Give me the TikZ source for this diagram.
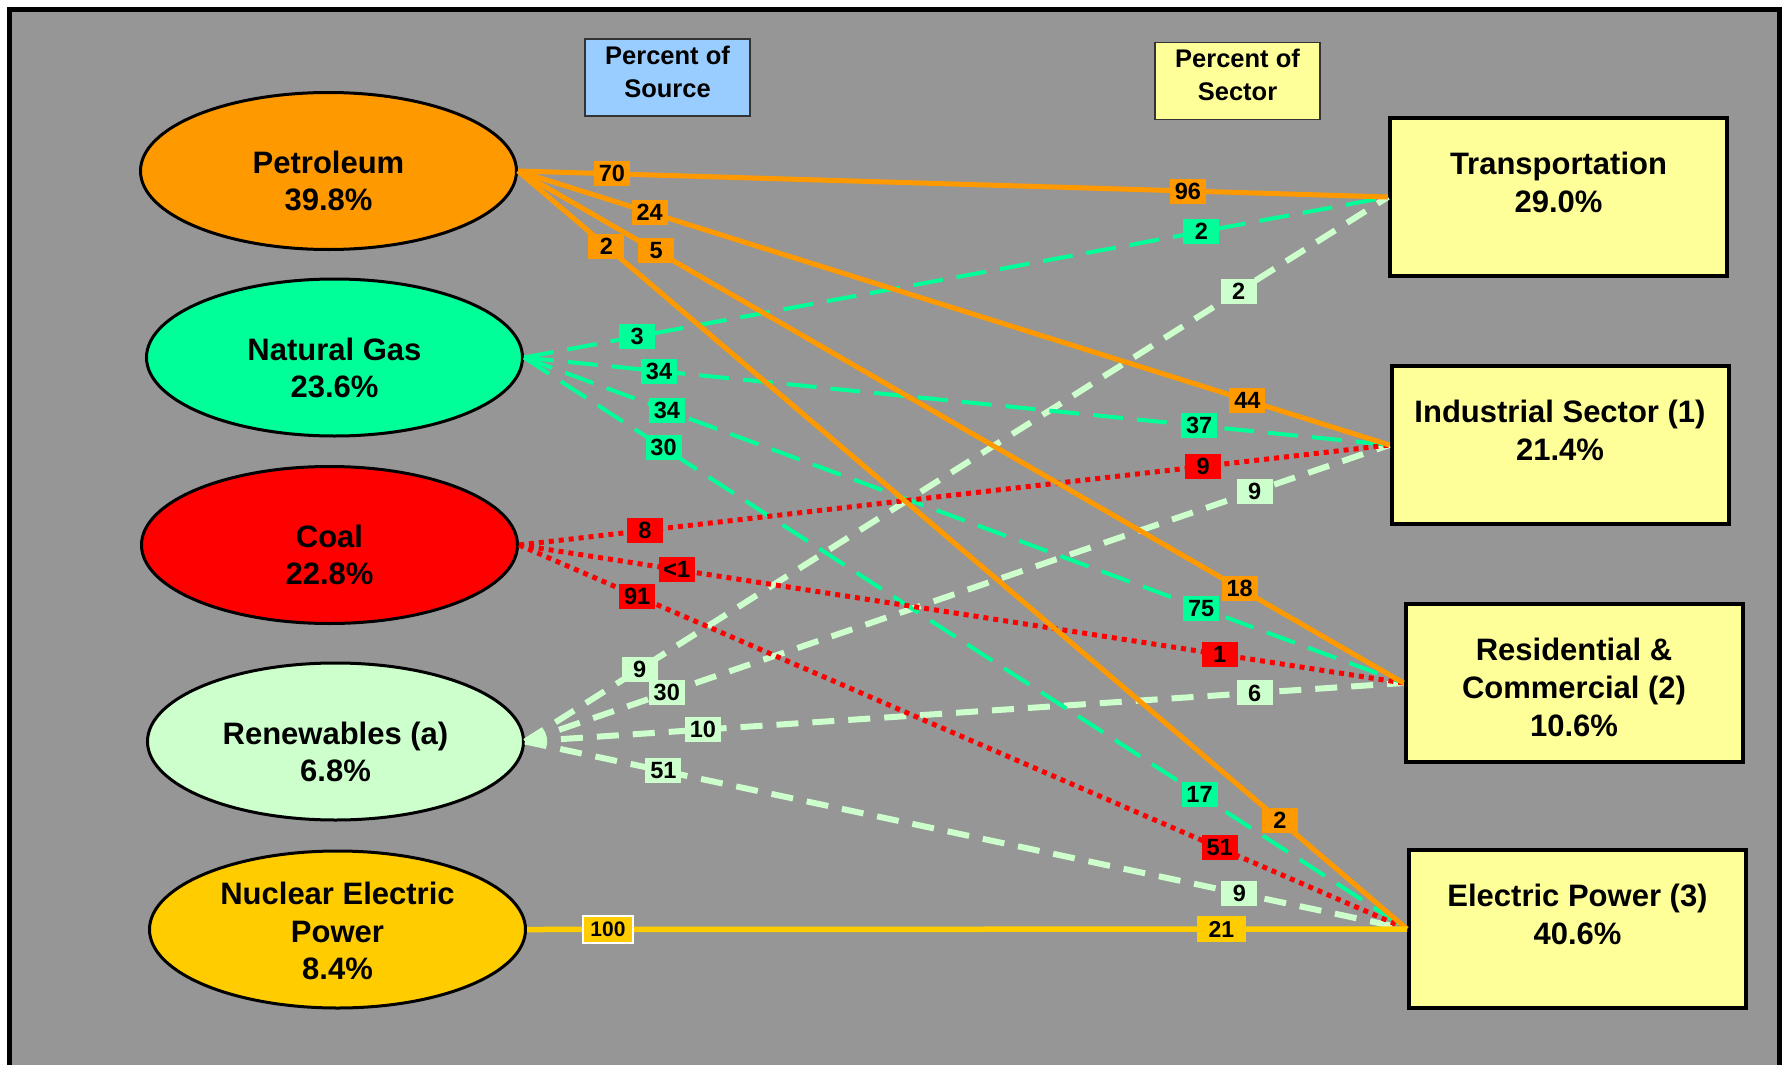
\documentclass[tikz,border=0pt]{standalone}
\usepackage{fontspec}
\setmainfont{Liberation Sans}
\usetikzlibrary{shapes.geometric}
\definecolor{bg}{RGB}{150,150,150}
\definecolor{petc}{HTML}{FF9900}
\definecolor{gasc}{HTML}{00FF99}
\definecolor{coalc}{HTML}{FF0000}
\definecolor{renc}{HTML}{CCFFCC}
\definecolor{nucc}{HTML}{FFCC00}
\definecolor{boxc}{HTML}{FFFF99}
\definecolor{srcc}{HTML}{99CCFF}
\tikzset{
 srcnode/.style={ellipse, draw=black, line width=3pt, minimum width=376pt, minimum height=157pt, inner sep=0pt},
 sectnode/.style={rectangle, draw=black, line width=4pt, fill=boxc, inner sep=0pt, minimum width=337pt, minimum height=158pt},
 bigtext/.style={font=\bfseries\fontsize{31}{37.5}\selectfont, align=center, inner sep=0pt},
 secttext/.style={font=\bfseries\fontsize{31}{38}\selectfont, align=center, inner sep=0pt},
 hdrbox/.style={rectangle, draw=black!80, line width=1.5pt, minimum width=165pt, minimum height=77pt, inner sep=0pt},
 hdrtext/.style={font=\bfseries\fontsize{25.5}{33}\selectfont, align=center, inner sep=0pt},
 petline/.style={draw=petc, line width=5pt},
 gasline/.style={draw=gasc, line width=4pt, dash pattern=on 30pt off 14pt},
 coalline/.style={draw=coalc, line width=5pt, dash pattern=on 5pt off 5pt},
 renline/.style={draw=renc, line width=6pt, dash pattern=on 22pt off 14pt},
 nucline/.style={draw=nucc, line width=5.5pt},
 lab/.style={font=\bfseries\fontsize{23.5}{23.5}\selectfont, minimum width=36pt, minimum height=25pt, inner sep=0pt},
 nuclab/.style={lab, fill=nucc, minimum width=49pt, minimum height=26pt},
}
\begin{document}
\begin{tikzpicture}[x=1pt,y=-1pt]
\useasboundingbox (0,0) rectangle (1786,1065);
\fill[white] (0,0) rectangle (1786,1065);
\draw[line width=5pt, fill=bg] (9.3,9.7) rectangle (1779,1100);

% header boxes
\node[hdrbox, fill=srcc] (hsrc) at (667.5,77.5) {};
\node[hdrtext] (hsrcT) at (667.5,72) {Percent of\\Source};
\node[hdrbox, fill=boxc] (hsec) at (1237.5,81) {};
\node[hdrtext] (hsecT) at (1237.5,75) {Percent of\\Sector};

% sources
\node[srcnode, fill=petc] (pet) at (328.5,171) {};
\node[srcnode, fill=gasc] (gas) at (334.5,357.5) {};
\node[srcnode, fill=coalc] (coal) at (329.5,545) {};
\node[srcnode, fill=renc] (ren) at (335.5,741.5) {};
\node[srcnode, fill=nucc] (nuc) at (337.5,929.5) {};

% sectors
\node[sectnode] (tr) at (1558.5,197) {};
\node[sectnode] (ind) at (1560,445) {};
\node[sectnode] (rc) at (1574,683) {};
\node[sectnode] (ep) at (1577.5,929) {};

% connectors
\draw[renline] (ren.east) -- (tr.west) coordinate[pos=0.133] (rtA) coordinate[pos=0.827] (rtB);
\draw[renline] (ren.east) -- (ind.west) coordinate[pos=0.164] (riA) coordinate[pos=0.844] (riB);
\draw[renline] (ren.east) -- (rc.west) coordinate[pos=0.2025] (rrA) coordinate[pos=0.8305] (rrB);
\draw[renline] (ren.east) -- (ep.west) coordinate[pos=0.157] (reA) coordinate[pos=0.81] (reB);

\draw[gasline] (gas.east) -- (tr.west) coordinate[pos=0.131] (gtA) coordinate[pos=0.784] (gtB);
\draw[gasline] (gas.east) -- (ind.west) coordinate[pos=0.156] (giA) coordinate[pos=0.78] (giB);
\draw[gasline] (gas.east) -- (rc.west) coordinate[pos=0.1625] (grA) coordinate[pos=0.77] (grB);
\draw[gasline] (gas.east) -- (ep.west) coordinate[pos=0.158] (geA) coordinate[pos=0.765] (geB);

\draw[coalline] (coal.east) -- (ind.west) coordinate[pos=0.1445] (ciA) coordinate[pos=0.786] (ciB);
\draw[coalline] (coal.east) -- (rc.west) coordinate[pos=0.1785] (crA) coordinate[pos=0.792] (crB);
\draw[coalline] (coal.east) -- (ep.west) coordinate[pos=0.133] (ceA) coordinate[pos=0.789] (ceB);

\draw[petline] (pet.east) -- (tr.west) coordinate[pos=0.108] (ptA) coordinate[pos=0.77] (ptB);
\draw[petline] (pet.east) -- (ind.west) coordinate[pos=0.151] (piA) coordinate[pos=0.837] (piB);
\draw[petline] (pet.east) -- (rc.west) coordinate[pos=0.156] (prA) coordinate[pos=0.815] (prB);
\draw[petline] (pet.east) -- (ep.west) coordinate[pos=0.0995] (peA) coordinate[pos=0.857] (peB);

\draw[nucline] (nuc.east) -- (ep.west) coordinate[pos=0.092] (neA) coordinate[pos=0.789] (neB);

% labels
\node[lab, fill=petc] (lptA) at (ptA) {70};
\node[lab, fill=petc] (lptB) at (ptB) {96};
\node[lab, fill=petc] (lpiA) at (piA) {24};
\node[lab, fill=petc] (lpiB) at (piB) {44};
\node[lab, fill=petc] (lprA) at (prA) {5};
\node[lab, fill=petc] (lprB) at (prB) {18};
\node[lab, fill=petc] (lpeA) at (peA) {2};
\node[lab, fill=petc] (lpeB) at (peB) {2};

\node[lab, fill=gasc] (lgtA) at (gtA) {3};
\node[lab, fill=gasc] (lgtB) at (gtB) {2};
\node[lab, fill=gasc] (lgiA) at (giA) {34};
\node[lab, fill=gasc] (lgiB) at (giB) {37};
\node[lab, fill=gasc] (lgrA) at (grA) {34};
\node[lab, fill=gasc] (lgrB) at (grB) {75};
\node[lab, fill=gasc] (lgeA) at (geA) {30};
\node[lab, fill=gasc] (lgeB) at (geB) {17};

\node[lab, fill=coalc] (lciA) at (ciA) {8};
\node[lab, fill=coalc] (lciB) at (ciB) {9};
\node[lab, fill=coalc] (lcrA) at (crA) {<1};
\node[lab, fill=coalc] (lcrB) at (crB) {1};
\node[lab, fill=coalc] (lceA) at (ceA) {91};
\node[lab, fill=coalc] (lceB) at (ceB) {51};

\node[lab, fill=renc] (lrtA) at (rtA) {9};
\node[lab, fill=renc] (lrtB) at (rtB) {2};
\node[lab, fill=renc] (lriA) at (riA) {30};
\node[lab, fill=renc] (lriB) at (riB) {9};
\node[lab, fill=renc] (lrrA) at (rrA) {10};
\node[lab, fill=renc] (lrrB) at (rrB) {6};
\node[lab, fill=renc] (lreA) at (reA) {51};
\node[lab, fill=renc] (lreB) at (reB) {9};

\node[nuclab, draw=white, line width=1.5pt, minimum width=50pt, minimum height=27pt, font=\bfseries\fontsize{21}{21}\selectfont] (lneA) at (neA) {100};
\node[nuclab, font=\bfseries\fontsize{23}{23}\selectfont] (lneB) at (neB) {21};

% texts
\node[bigtext] (petT) at (328.5,181) {Petroleum\\39.8\%};
\node[bigtext] (gasT) at (334.5,368) {Natural Gas\\23.6\%};
\node[bigtext] (coalT) at (329.5,555) {Coal\\22.8\%};
\node[bigtext] (renT) at (335.5,752) {Renewables (a)\\6.8\%};
\node[bigtext] (nucT) at (337.5,931) {Nuclear Electric\\Power\\8.4\%};

\node[secttext] (trT) at (1558.5,182.75) {Transportation\\29.0\%};
\node[secttext] (indT) at (1560,430.75) {Industrial Sector (1)\\21.4\%};
\node[secttext] (rcT) at (1574,687.75) {Residential \&\\Commercial (2)\\10.6\%};
\node[secttext] (epT) at (1577.5,914.75) {Electric Power (3)\\40.6\%};
\end{tikzpicture}
\end{document}
